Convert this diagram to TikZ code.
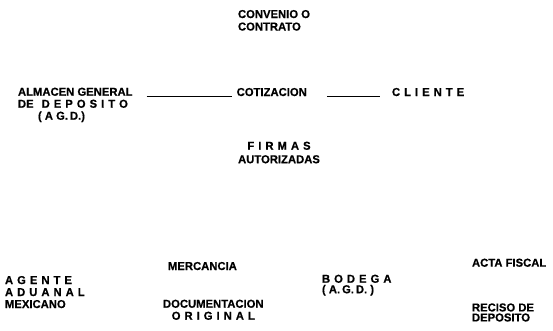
\documentclass[tikz,border=0pt]{standalone}
\usepackage{fontspec}
\setmainfont{Liberation Sans}[FakeStretch=0.98, BoldFeatures={FakeBold=0.5}]
\usetikzlibrary{positioning}
\makeatletter
\newcommand\trk[1]{\@tfor\trk@c:=#1\do{\trk@c\kern4pt}\unkern}
\makeatother

\begin{document}
\begin{tikzpicture}[x=1pt,y=-1pt,
        every node/.style={font=\bfseries\fontsize{11.5}{12}\selectfont,
          inner sep=0pt, outer sep=0pt},
        link/.style={line width=0.8pt}]
    \useasboundingbox (0,0) rectangle (553,330);
    % top part
    \node[anchor=north west, align=left] (convenio) at (238,10) {CONVENIO O\\[0.5pt]CONTRATO};
    \node[anchor=north west, align=left] (almacen) at (18,87.7)
        {ALMACEN GENERAL\\DE\hspace{8pt}\trk{DEPOSITO}\\\hspace{20pt}(\ A\ G.\,D.)};
    \node[anchor=base west] (cotiza) at (236.7,96) {COTIZACION};
    \node[anchor=base west] (cliente) at (392,96) {\trk{CLIENTE}};
    \node[anchor=north, align=center] (firmas) at (279,141.7) {\trk{FIRMAS}\\[1.5pt]AUTORIZADAS};
    \draw[link] ([xshift=14pt]almacen.north east |- cotiza.base) -- ([xshift=-5pt]cotiza.base west);
    \draw[link] ([xshift=20pt]cotiza.base east) -- ([xshift=-12pt]cliente.base west);
    % bottom part
    \node[anchor=north west, align=left] (agente) at (5,276)
        {\trk{AGENTE}\\\trk{ADUANAL}\\MEXICANO};
    \node[anchor=base west] (mercancia) at (168,270) {MERCANCIA};
    \node[anchor=north west, align=center] (docu) at (163,299.7)
        {DOCUMENTACION\\\trk{ORIGINAL}};
    \node[anchor=north west, align=left] (bodega) at (322,274.7)
        {\trk{BODEGA}\\[-1.5pt](\ A.\,G.\,D.\ )};
    \node[anchor=base west] (acta) at (472,266.7) {ACTA FISCAL};
    \node[anchor=north west, align=left] (recibo) at (472,303.4) {RECISO DE\\[-2pt]DEPOSITO};
\end{tikzpicture}
\end{document}
